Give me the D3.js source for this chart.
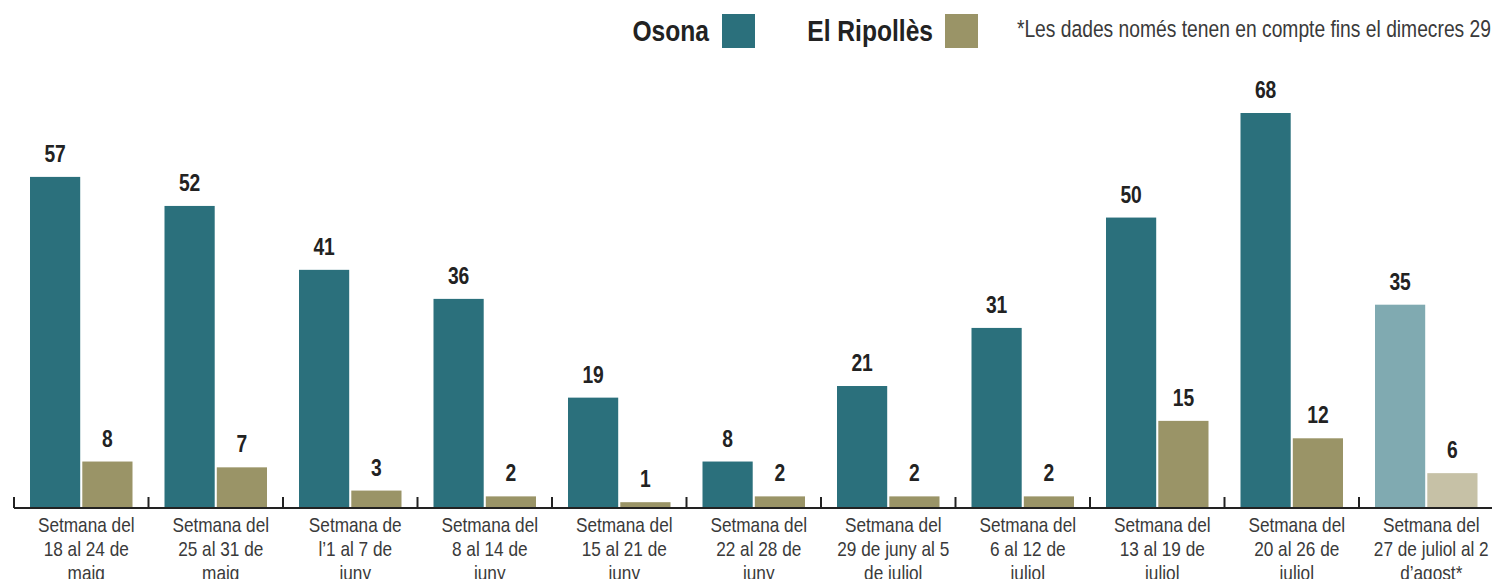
<!DOCTYPE html>
<html>
<head>
<meta charset="utf-8">
<script src="https://cdn.jsdelivr.net/npm/d3@7"></script>
<style>
  html, body { margin: 0; padding: 0; background: #fff; }
  svg { display: block; }
  text { font-family: "Liberation Sans", Arial, sans-serif; }
</style>
</head>
<body>
<svg id="chart" width="1492" height="579"></svg>
<script>
const categories = [
  "Setmana del\n18 al 24 de\nmaig",
  "Setmana del\n25 al 31 de\nmaig",
  "Setmana de\nl’1 al 7 de\njuny",
  "Setmana del\n8 al 14 de\njuny",
  "Setmana del\n15 al 21 de\njuny",
  "Setmana del\n22 al 28 de\njuny",
  "Setmana del\n29 de juny al 5\nde juliol",
  "Setmana del\n6 al 12 de\njuliol",
  "Setmana del\n13 al 19 de\njuliol",
  "Setmana del\n20 al 26 de\njuliol",
  "Setmana del\n27 de juliol al 2\nd’agost*"
];
const osona    = [57, 52, 41, 36, 19, 8, 21, 31, 50, 68, 35];
const ripolles = [8, 7, 3, 2, 1, 2, 2, 2, 15, 12, 6];
const seriesNames = ["Osona", "El Ripollès"];
const partialCategory = categories[categories.length - 1];
const footnote = "*Les dades només tenen en compte fins el dimecres 29";

const colors = { "Osona": "#2b707c", "El Ripollès": "#9a9467" };
const lightColors = { "Osona": "#80aab1", "El Ripollès": "#c6c1a6" };
const NARROW = 0.82;

const svg = d3.select("#chart");
const baseY = 508;

const x0 = d3.scaleBand().domain(categories).range([14, 14 + 11 * 134.5]).paddingInner(0).paddingOuter(0);
const x1 = d3.scaleBand().domain(seriesNames).range([16, 134.5 - 16]).paddingInner(0.04);
const y = d3.scaleLinear().domain([0, 68]).range([baseY, 113]);

const rows = categories.map((c, i) => ({ cat: c, values: [
  { name: "Osona", v: osona[i] },
  { name: "El Ripollès", v: ripolles[i] }
]}));

const g = svg.append("g");
const groups = g.selectAll("g.cat").data(rows).join("g")
  .attr("transform", d => `translate(${x0(d.cat)},0)`);

groups.selectAll("rect").data(d => d.values.map(v => ({ ...v, cat: d.cat }))).join("rect")
  .attr("x", d => x1(d.name))
  .attr("width", x1.bandwidth())
  .attr("y", d => y(d.v))
  .attr("height", d => baseY - y(d.v))
  .attr("fill", d => d.cat === partialCategory ? lightColors[d.name] : colors[d.name]);

groups.selectAll("text.val").data(d => d.values).join("text")
  .attr("class", "val")
  .attr("transform", d => `translate(${x1(d.name) + x1.bandwidth() / 2},${y(d.v) - 15}) scale(${NARROW},1)`)
  .attr("text-anchor", "middle")
  .attr("font-size", 23.5)
  .attr("font-weight", "bold")
  .attr("fill", "#222")
  .text(d => d.v);

// Axis
const axis = d3.axisBottom(x0).tickSizeOuter(0).tickFormat("");
const axG = svg.append("g").attr("transform", `translate(0,${baseY})`).call(axis);
axG.select(".domain").attr("stroke", "#222").attr("stroke-width", 2).attr("d", `M14,0H1492`);
axG.selectAll(".tick").remove();
axG.selectAll("line.bt").data(categories).join("line")
  .attr("class", "bt")
  .attr("x1", d => x0(d)).attr("x2", d => x0(d))
  .attr("y1", 0).attr("y2", -11)
  .attr("stroke", "#222").attr("stroke-width", 2);

// Category labels
const labels = svg.append("g").selectAll("text").data(categories).join("text")
  .attr("text-anchor", "middle")
  .attr("font-size", 21)
  .attr("fill", "#3a3a3a")
  .attr("transform", d => `translate(${x0(d) + x0.bandwidth() / 2 + 5},532) scale(${NARROW},1)`);
labels.each(function(d) {
  const t = d3.select(this);
  d.split("\n").forEach((line, i) => {
    t.append("tspan").attr("x", 0).attr("dy", i === 0 ? 0 : 24).text(line);
  });
});

// Legend
const legend = [
  { name: "Osona", textEnd: 709, sx: 722 },
  { name: "El Ripollès", textEnd: 933, sx: 945 }
];
legend.forEach(l => {
  svg.append("text")
    .attr("transform", `translate(${l.textEnd},41) scale(${NARROW},1)`)
    .attr("text-anchor", "end")
    .attr("font-size", 30).attr("font-weight", "bold").attr("fill", "#222")
    .text(l.name);
  svg.append("rect").attr("x", l.sx).attr("y", 14).attr("width", 33).attr("height", 34)
    .attr("fill", colors[l.name]);
});
svg.append("text")
  .attr("transform", `translate(1491,37) scale(${NARROW},1)`)
  .attr("text-anchor", "end")
  .attr("font-size", 23.5).attr("fill", "#3a3a3a")
  .text(footnote);
</script>
</body>
</html>
